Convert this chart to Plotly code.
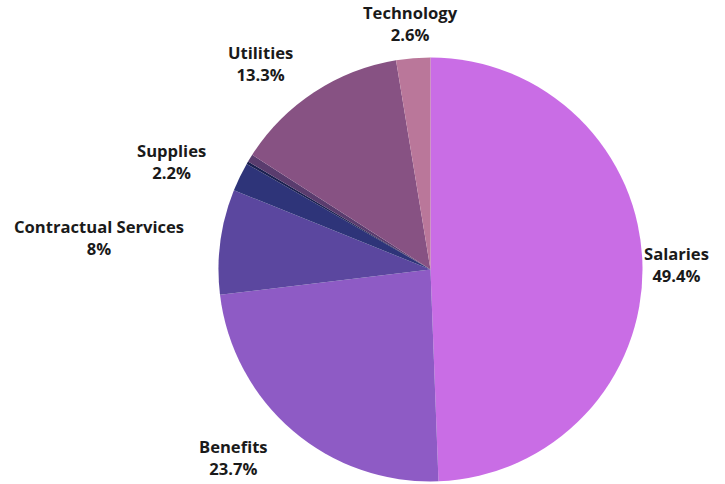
import math
import plotly.graph_objects as go

categories = ["Salaries", "Benefits", "Contractual Services", "Supplies",
              "Equipment", "Travel", "Utilities", "Technology"]
values = [49.4, 23.7, 8, 2.2, 0.2, 0.6, 13.3, 2.6]
show_label = [True, True, True, True, False, False, True, True]
colors = ["#C96DE5", "#8E5BC5", "#5B479F", "#2E3479",
          "#1B2050", "#5A3C6E", "#875283", "#BA779A"]

# layout (pixels)
W, H = 725, 484
CX, CY, R = 430.5, 269.5, 212
LABEL_GAP = 35
FONT = dict(family="Open Sans", size=16.6, color="#1a1a1a", weight="bold")

fig = go.Figure(go.Pie(
    labels=categories,
    values=values,
    textinfo="none",
    sort=False,
    direction="clockwise",
    rotation=0,
    marker=dict(colors=colors, line=dict(width=0)),
    domain=dict(x=[(CX - R) / W, (CX + R) / W], y=[1 - (CY + R) / H, 1 - (CY - R) / H]),
    hoverinfo="label+percent",
))

# data labels placed outside the slices, computed from the values
total = sum(values)
cum = 0.0
annotations = []
for c, v, s in zip(categories, values, show_label):
    mid = (cum + v / 2) / total * 2 * math.pi
    cum += v
    if not s:
        continue
    sx, cy_ = math.sin(mid), math.cos(mid)
    px = CX + (R + LABEL_GAP) * sx
    py = CY - (R + LABEL_GAP) * cy_
    if sx > 0.3:
        xanchor = "left"
        if px + 70 > W - 18:
            px, xanchor = W - 14, "right"
    elif sx < -0.3:
        xanchor = "right"
    else:
        xanchor = "center"
    annotations.append(dict(
        x=px / W, y=1 - py / H, xref="paper", yref="paper",
        text=f"{c}<br>{v:g}%", showarrow=False,
        xanchor=xanchor, yanchor="middle", align="center", font=FONT,
    ))

fig.update_layout(
    width=W, height=H,
    margin=dict(l=0, r=0, t=0, b=0),
    showlegend=False,
    paper_bgcolor="white",
    plot_bgcolor="white",
    annotations=annotations,
)

fig.write_html("out.html", config={"displayModeBar": False},
               post_script="document.body.style.margin='0';")
